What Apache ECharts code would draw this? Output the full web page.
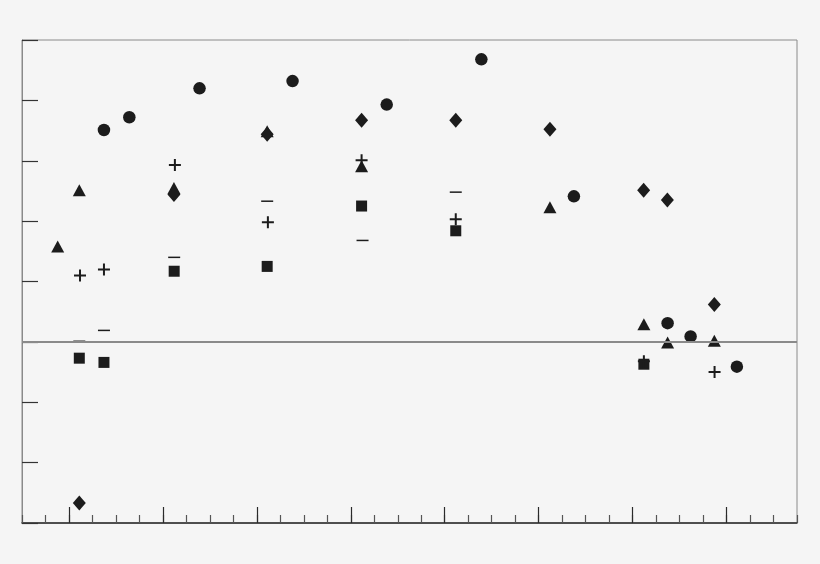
<!DOCTYPE html>
<html>
<head>
<meta charset="utf-8">
<script src="https://cdn.jsdelivr.net/npm/echarts@6/dist/echarts.min.js"></script>
<style>
html,body{margin:0;padding:0;background:#f5f5f5;}
#main{width:820px;height:564px;}
</style>
</head>
<body>
<div id="main"></div>
<script>
// x in minor-tick units (0 = left frame, 33 = right frame); y in major y-tick units
var circlePts = [[3.49,3.51],[4.57,3.72],[7.56,4.20],[11.52,4.32],[15.53,3.93],[19.56,4.68],[23.50,2.41],[27.49,0.31],[28.47,0.09],[30.44,-0.41]];
var trianglePts = [[1.52,1.58],[2.44,2.51],[6.47,2.55],[10.44,3.49],[14.46,2.91],[22.48,2.23],[26.48,0.29],[27.49,-0.01],[29.48,0.02]];
var diamondPts = [[2.44,-2.67],[6.47,2.44],[10.44,3.44],[14.46,3.67],[18.47,3.67],[22.48,3.52],[26.47,2.51],[27.48,2.35],[29.48,0.62]];
var squarePts = [[2.44,-0.27],[3.49,-0.34],[6.48,1.17],[10.44,1.25],[14.46,2.25],[18.47,1.84],[26.48,-0.37]];
var plusPts = [[2.47,1.10],[3.49,1.20],[6.51,2.93],[10.47,1.98],[14.46,3.01],[18.47,2.03],[26.48,-0.32],[29.49,-0.50]];
var minusPts = [[2.44,0.01],[3.49,0.19],[6.48,1.40],[10.44,2.33],[14.50,1.68],[18.47,2.48]];
var majorTickX = [2,6,10,14,18,22,26,30];
var xMin = 0, xMax = 33, yMin = -3, yMax = 5;

var ink = '#1c1c1c';
var plusPath = 'path://M5,0H7V5H12V7H7V12H5V7H0V5H5Z';
var minusPath = 'path://M0,0H12V1.5H0Z';

function sc(name, data, symbol, size, extra) {
  var s = {
    name: name, type: 'scatter', data: data, symbol: symbol, symbolSize: size,
    itemStyle: { color: ink, opacity: 1 }, emphasis: { disabled: true }, silent: true,
    xAxisIndex: 0, yAxisIndex: 0
  };
  if (extra) for (var k in extra) s[k] = extra[k];
  return s;
}

var chart = echarts.init(document.getElementById('main'), null, { renderer: 'canvas' });
chart.setOption({
  backgroundColor: '#f5f5f5',
  animation: false,
  grid: { left: 22, right: 23, top: 40, bottom: 41, show: true, borderColor: '#8a8a8a', borderWidth: 1, backgroundColor: 'transparent', containLabel: false },
  xAxis: [
    { type: 'value', min: xMin, max: xMax, interval: 1, position: 'bottom',
      axisLine: { show: true, onZero: false, lineStyle: { color: '#2a2a2a', width: 1.5 } },
      axisTick: { show: true, inside: true, length: 8, lineStyle: { color: '#555', width: 1.2 } },
      axisLabel: { show: false }, splitLine: { show: false } },
    { type: 'value', min: xMin, max: xMax, interval: 1, position: 'bottom',
      axisLine: { show: false, onZero: false },
      axisTick: { show: true, inside: true, length: 16, customValues: majorTickX, lineStyle: { color: '#2a2a2a', width: 1.2 } },
      axisLabel: { show: false }, splitLine: { show: false } }
  ],
  yAxis: [
    { type: 'value', min: yMin, max: yMax, interval: 1,
      axisLine: { show: true, onZero: false, lineStyle: { color: '#8a8a8a', width: 1 } },
      axisTick: { show: true, inside: true, length: 16, lineStyle: { color: '#333', width: 1.2 } },
      axisLabel: { show: false }, splitLine: { show: false } }
  ],
  series: [
    sc('circle', circlePts, 'circle', 12.5, {
      markLine: { silent: true, symbol: ['none','none'], label: { show: false },
        lineStyle: { color: '#8a8a8a', width: 2, type: 'solid' },
        emphasis: { disabled: true },
        data: [{ yAxis: 0 }] }
    }),
    sc('triangle', trianglePts, 'triangle', [13, 12]),
    sc('diamond', diamondPts, 'diamond', [13, 15]),
    sc('square', squarePts, 'rect', [11, 11]),
    sc('plus', plusPts, plusPath, [12, 12]),
    sc('minus', minusPts, minusPath, [12, 1.5])
  ]
});
</script>
</body>
</html>
